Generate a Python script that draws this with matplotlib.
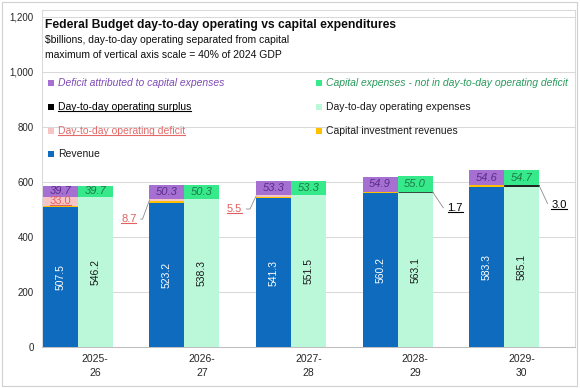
import matplotlib
matplotlib.use('Agg')
import matplotlib.pyplot as plt
import numpy as np
from matplotlib.patches import Rectangle
from matplotlib.lines import Line2D
from matplotlib.text import Text
from matplotlib.transforms import IdentityTransform
from matplotlib.ticker import FuncFormatter

plt.rcParams['font.family'] = ['Liberation Sans', 'DejaVu Sans']

# data ($billions)
years = ['2025-\n26', '2026-\n27', '2027-\n28', '2028-\n29', '2029-\n30']
revenue = [507.5, 523.2, 541.3, 560.2, 583.3]
cap_inv_rev = [5.7, 6.4, 4.7, 4.6, 4.8]
op_deficit = [33.0, 8.7, 5.5, 0.0, 0.0]
deficit_capital = [39.7, 50.3, 53.3, 54.9, 54.6]
op_expenses = [546.2, 538.3, 551.5, 563.1, 585.1]
op_surplus = [0.0, 0.0, 0.0, 1.7, 3.0]
capital_exp = [39.7, 50.3, 53.3, 55.0, 54.7]

# colours
c_rev = '#0E6BBE'
c_capinv = '#FFC000'
c_def = '#F7C5C6'
c_defcap = '#A670D2'
c_opexp = '#BBF7D9'
c_surp = '#000000'
c_capexp = '#36E98B'
c_purple_txt = '#5A2D8A'
c_green_txt = '#1E7A48'
c_red_txt = '#E0605F'

W, H = 580, 388
fig = plt.figure(figsize=(W / 100, H / 100), dpi=100)
ax = fig.add_axes([42 / W, 41 / H, 533 / W, 337 / H])

x = np.arange(len(years))
w = 0.328

rev = np.array(revenue)
ci = np.array(cap_inv_rev)
od = np.array(op_deficit)
dc = np.array(deficit_capital)
oe = np.array(op_expenses)
su = np.array(op_surplus)
ce = np.array(capital_exp)

xl = x - w
xr = x
ax.bar(xl, rev, w, color=c_rev, zorder=2)
ax.bar(xl, ci, w, bottom=rev, color=c_capinv, zorder=2)
ax.bar(xl, od, w, bottom=rev + ci, color=c_def, zorder=2)
ax.bar(xl, dc, w, bottom=rev + ci + od, color=c_defcap, zorder=2)

ax.bar(xr, oe, w, color=c_opexp, zorder=2)
sbars = ax.bar(xr, su, w, bottom=oe, color=c_surp, zorder=2)
for b, v in zip(sbars, su):
    if v > 0:
        b.set_edgecolor(c_surp)
        b.set_linewidth(0.5)
ax.bar(xr, ce, w, bottom=oe + su, color=c_capexp, zorder=2)

underline = []

for i in range(len(years)):
    ax.text(xl[i], rev[i] / 2, f'{rev[i]:.1f}', rotation=90, ha='center', va='center',
            color='white', fontsize=7.5, zorder=3)
    ax.text(xr[i], oe[i] / 2, f'{oe[i]:.1f}', rotation=90, ha='center', va='center',
            color='#1a1a1a', fontsize=7.5, zorder=3)
    ax.text(xl[i], rev[i] + ci[i] + od[i] + dc[i] / 2, f'{dc[i]:.1f}', ha='center', va='center',
            color=c_purple_txt, fontsize=8, style='italic', zorder=3)
    ax.text(xr[i], oe[i] + su[i] + ce[i] / 2, f'{ce[i]:.1f}', ha='center', va='center',
            color=c_green_txt, fontsize=8, style='italic', zorder=3)

# deficit labels: inside if segment is tall, otherwise with a leader line to the left
def_offsets = {1: (-13, -19, 70), 2: (-14, -13, 65)}
for i in range(len(years)):
    if od[i] <= 0:
        continue
    ymid = rev[i] + ci[i] + od[i] / 2
    if od[i] >= 20:
        t = ax.text(xl[i], ymid, f'{od[i]:.1f}', ha='center', va='center',
                    color=c_red_txt, fontsize=8, zorder=3)
    else:
        dx, dy, ang = def_offsets.get(i, (-14, -16, 65))
        t = ax.annotate(f'{od[i]:.1f}', xy=(xl[i] - w / 2, ymid), xytext=(dx, dy),
                        textcoords='offset pixels', ha='right', va='center',
                        color=c_red_txt, fontsize=8, zorder=3,
                        arrowprops=dict(arrowstyle='-', color='#8C8C8C', lw=0.6,
                                        shrinkA=1, shrinkB=0, relpos=(1, 0.5),
                                        connectionstyle=f'angle,angleA=0,angleB={ang},rad=0'))
    underline.append((t, c_red_txt))

# surplus labels with a leader line to the right
sur_offsets = {3: (15, -16, -56), 4: (12, -19, -65)}
for i in range(len(years)):
    if su[i] <= 0:
        continue
    dx, dy, ang = sur_offsets.get(i, (13, -17, -60))
    t = ax.annotate(f'{su[i]:.1f}', xy=(xr[i] + w / 2, oe[i] + su[i] / 2), xytext=(dx, dy),
                    textcoords='offset pixels', ha='left', va='center',
                    color='black', fontsize=8, zorder=3,
                    arrowprops=dict(arrowstyle='-', color='#8C8C8C', lw=0.6,
                                    shrinkA=1, shrinkB=0, relpos=(0, 0.5),
                                    connectionstyle=f'angle,angleA=0,angleB={ang},rad=0'))
    underline.append((t, 'black'))

# axes styling
ax.set_xlim(-0.5, len(years) - 0.5)
ax.set_ylim(0, 1225)
ax.set_yticks(np.arange(0, 1201, 200))
ax.yaxis.set_major_formatter(FuncFormatter(lambda v, _: f'{int(v):,}'))
ax.set_xticks(x)
ax.set_xticklabels(years, linespacing=1.5)
ax.tick_params(axis='both', length=0, labelsize=7, colors='#262626')
ax.tick_params(axis='x', pad=5, labelsize=7.5)
ax.tick_params(axis='y', pad=6)
ax.grid(axis='y', color='#D9D9D9', lw=0.75, zorder=0)
ax.set_axisbelow(True)
for s in ax.spines.values():
    s.set_color('#D9D9D9')
    s.set_linewidth(0.75)
ax.spines['bottom'].set_color('#BFBFBF')

# outer border
fig.patches.append(Rectangle((2 / W, 2 / H), 575 / W, 384 / H, transform=fig.transFigure,
                             fill=False, edgecolor='#D0D0D0', lw=0.8))

# titles
fig.text(45 / W, 1 - 25 / H, 'Federal Budget day-to-day operating vs capital expenditures',
         fontsize=8.7, weight='bold', va='center', color='#0d0d0d')
fig.text(45 / W, 1 - 40 / H, '$billions, day-to-day operating separated from capital',
         fontsize=7.5, va='center', color='#0d0d0d')
fig.text(45 / W, 1 - 55 / H, 'maximum of vertical axis scale = 40% of 2024 GDP',
         fontsize=7.5, va='center', color='#0d0d0d')

# legend (two columns)
legend_items = [
    ('Deficit attributed to capital expenses', c_defcap, '#7E4BB5', 'italic', False),
    ('Day-to-day operating surplus', c_surp, 'black', 'normal', True),
    ('Day-to-day operating deficit', c_def, '#E46A6A', 'normal', True),
    ('Revenue', c_rev, '#1a1a1a', 'normal', False),
    ('Capital expenses - not in day-to-day operating deficit', c_capexp, '#2A9A5C', 'italic', False),
    ('Day-to-day operating expenses', c_opexp, '#1a1a1a', 'normal', False),
    ('Capital investment revenues', c_capinv, '#1a1a1a', 'normal', False),
]
rows_y = [83, 107, 131, 154]
col_marker_x = [51, 319]
col_text_x = [58, 326]
for k, (lab, fc, tc, st, ul) in enumerate(legend_items):
    col, row = divmod(k, 4)
    my = rows_y[row]
    mx = col_marker_x[col]
    fig.patches.append(Rectangle(((mx - 3) / W, 1 - (my + 3) / H), 6 / W, 6 / H,
                                 transform=fig.transFigure, facecolor=fc, edgecolor='none'))
    t = fig.text(col_text_x[col] / W, 1 - my / H, lab, fontsize=7.5, va='center',
                 color=tc, style=st)
    if ul:
        underline.append((t, tc))

# underline selected texts (text box only, not the leader line)
fig.canvas.draw()
r = fig.canvas.get_renderer()
for t, col in underline:
    bb = Text.get_window_extent(t, r)
    fig.add_artist(Line2D([bb.x0, bb.x1], [bb.y0 + 1, bb.y0 + 1], color=col, lw=0.8,
                          transform=IdentityTransform()))

fig.savefig('out.png', dpi=100)
